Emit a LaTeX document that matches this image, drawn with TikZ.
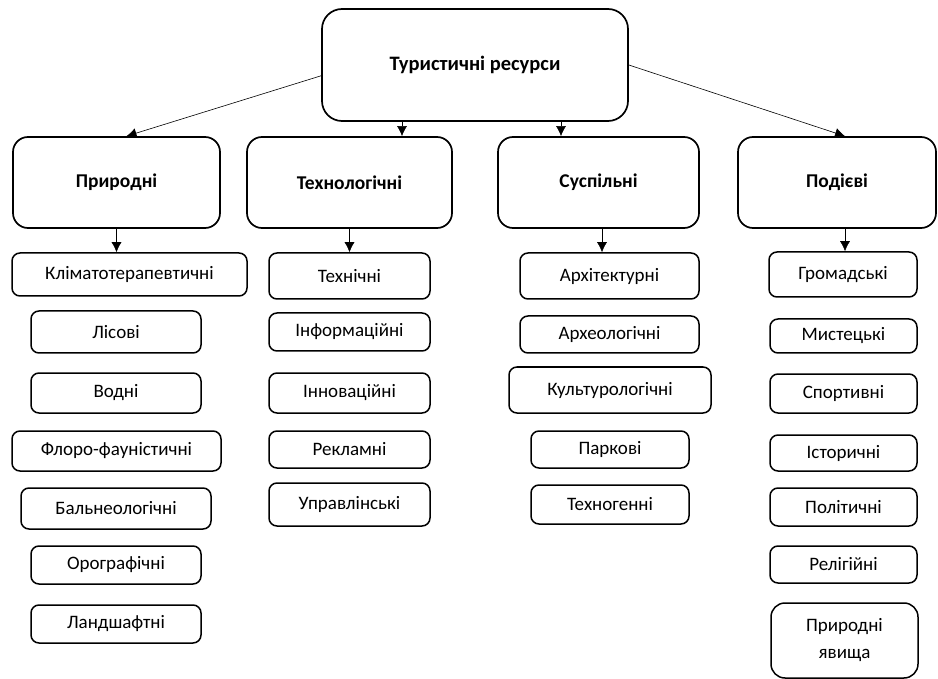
\documentclass[tikz,border=0pt]{standalone}
\usepackage{fontspec}
\setmainfont{Carlito}
\usetikzlibrary{arrows.meta}

\begin{document}
\begin{tikzpicture}[x=1pt,y=-1pt,
        root node/.style={draw,line width=1.7pt,rounded corners=20pt,font=\fontsize{20.5}{24}\selectfont\bfseries,minimum width=306pt,minimum height=112pt},
        main node/.style={draw,line width=1.7pt,rounded corners=15pt,font=\fontsize{19.5}{23}\selectfont\bfseries,minimum height=91pt},
        leaf node/.style={draw,line width=1.5pt,rounded corners=8pt,font=\fontsize{19}{27}\selectfont,align=center},
        link/.style={-{Latex[length=10pt,width=10pt]},line width=0.6pt}]

        \useasboundingbox (0,0) rectangle (938,679);

        % Define vertices
        \node[root node] (res) at (475,65) {Туристичні ресурси};

        \node[main node,minimum width=207pt] (nat) at (116.5,182.5) {Природні};
        \node[main node,minimum width=205pt] (tech) at (349.5,182.5) {Технологічні};
        \node[main node,minimum width=201pt] (soc) at (598.5,182.5) {Суспільні};
        \node[main node,minimum width=198pt] (evt) at (837,182.5) {Подієві};

        % natural
        \node[leaf node,minimum width=235pt,minimum height=43pt] (klim) at (129.5,274.5) {Кліматотерапевтичні};
        \node[leaf node,minimum width=170pt,minimum height=42pt] (lis) at (116,332) {Лісові};
        \node[leaf node,minimum width=170pt,minimum height=40pt] (vod) at (116,393) {Водні};
        \node[leaf node,minimum width=209pt,minimum height=40pt] (flor) at (116.5,451) {Флоро-фауністичні};
        \node[leaf node,minimum width=190pt,minimum height=41pt] (baln) at (116,508.5) {Бальнеологічні};
        \node[leaf node,minimum width=170pt,minimum height=38pt] (oro) at (116,565) {Орографічні};
        \node[leaf node,minimum width=170pt,minimum height=38pt] (land) at (116,624) {Ландшафтні};

        % technological
        \node[leaf node,minimum width=161pt,minimum height=46pt] (tekh) at (349.5,276) {Технічні};
        \node[leaf node,minimum width=161pt,minimum height=38pt] (inf) at (349.5,332) {Інформаційні};
        \node[leaf node,minimum width=161pt,minimum height=40pt] (inn) at (349.5,393) {Інноваційні};
        \node[leaf node,minimum width=161pt,minimum height=37pt] (rek) at (349.5,449.5) {Рекламні};
        \node[leaf node,minimum width=161pt,minimum height=43pt] (upr) at (349.5,504.5) {Управлінські};

        % social
        \node[leaf node,minimum width=179pt,minimum height=46pt] (arch) at (609.5,276) {Архітектурні};
        \node[leaf node,minimum width=179pt,minimum height=37pt] (arche) at (609.5,334.5) {Археологічні};
        \node[leaf node,minimum width=202pt,minimum height=46pt] (kult) at (610,390) {Культурологічні};
        \node[leaf node,minimum width=158pt,minimum height=37pt] (park) at (610,449.5) {Паркові};
        \node[leaf node,minimum width=158pt,minimum height=39pt] (tgen) at (610,504.5) {Техногенні};

        % events
        \node[leaf node,minimum width=148pt,minimum height=45pt] (grom) at (843,274.5) {Громадські};
        \node[leaf node,minimum width=147pt,minimum height=34pt] (myst) at (843.5,336) {Мистецькі};
        \node[leaf node,minimum width=147pt,minimum height=39pt] (sport) at (843.5,393.5) {Спортивні};
        \node[leaf node,minimum width=147pt,minimum height=36pt] (ist) at (843.5,453) {Історичні};
        \node[leaf node,minimum width=147pt,minimum height=38pt] (pol) at (843.5,507) {Політичні};
        \node[leaf node,minimum width=147pt,minimum height=37pt] (rel) at (843.5,564.5) {Релігійні};
        \node[leaf node,minimum width=147pt,minimum height=75pt,rounded corners=14pt] (yav) at (844.5,640.5) {Природні\\явища};

        % Draw edges
        \path[link]
            (res.184) edge ([xshift=10pt]nat.north)
            ([xshift=-73pt]res.south) edge ([xshift=52.5pt]tech.north)
            ([xshift=86pt]res.south) edge ([xshift=-37.5pt]soc.north)
            (res.east) edge ([xshift=8pt]evt.north)
            (nat.south) edge (nat.south |- klim.north)
            (tech.south) edge (tech.south |- tekh.north)
            ([xshift=3.5pt]soc.south) edge ([xshift=3.5pt]soc.south |- arch.north)
            ([xshift=8pt]evt.south) edge ([xshift=8pt]evt.south |- grom.north);

\end{tikzpicture}
\end{document}
